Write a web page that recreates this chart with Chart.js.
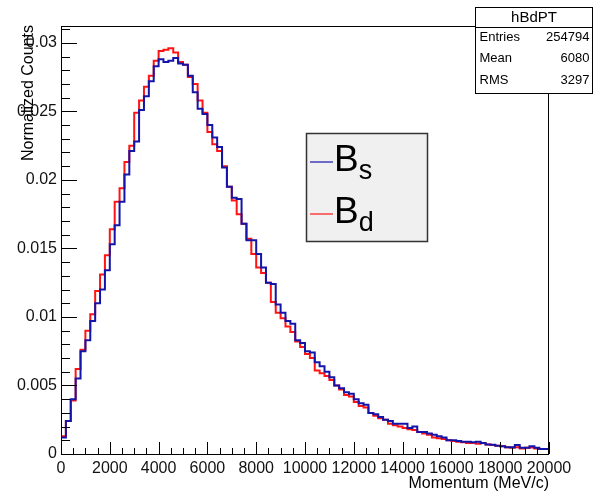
<!DOCTYPE html>
<html>
<head>
<meta charset="utf-8">
<title>hBdPT</title>
<script src="https://cdn.jsdelivr.net/npm/chart.js@4.4.1/dist/chart.umd.min.js"></script>
<style>
  html, body { margin: 0; padding: 0; background: #fff; }
  #wrap { width: 593px; height: 491px; }
</style>
</head>
<body>
<div id="wrap"><canvas id="c" width="593" height="491"></canvas></div>
<script>
// momentum histogram, 100 bins of 200 MeV/c from 0 to 20000
const xMin = 0;
const xMax = 20000;
const nBins = 100;

const yTickValues = [0, 0.005, 0.01, 0.015, 0.02, 0.025, 0.03];
const xTickValues = [0, 2000, 4000, 6000, 8000, 10000, 12000, 14000, 16000, 18000, 20000];

const seriesNames = ['B', 'B'];
const seriesSubs = ['s', 'd'];
const seriesColors = ['#1414a8', '#ff1414'];

// normalized counts per bin
const bsCounts = [
  0.0003, 0.0012, 0.0024, 0.0040, 0.0055, 0.0075, 0.0083, 0.0097, 0.0110, 0.0120,
  0.0134, 0.0153, 0.0167, 0.0184, 0.0204, 0.0221, 0.0228, 0.0251, 0.0261, 0.0272,
  0.0283, 0.0288, 0.0286, 0.0287, 0.0289, 0.0285, 0.0284, 0.0276, 0.0264, 0.0252,
  0.0248, 0.0240, 0.0231, 0.0224, 0.0209, 0.0195, 0.0187, 0.0186, 0.0168, 0.0156,
  0.0156, 0.0146, 0.0136, 0.0125, 0.0124, 0.0109, 0.0103, 0.0097, 0.0095, 0.0083,
  0.0081, 0.0075, 0.0074, 0.0067, 0.0064, 0.0060, 0.0056, 0.0050, 0.0048, 0.0045,
  0.0044, 0.0040, 0.0037, 0.0036, 0.0030, 0.0029, 0.0027, 0.0025, 0.0024, 0.0022,
  0.0022, 0.0022, 0.0019, 0.0020, 0.0016, 0.0016, 0.0015, 0.0014, 0.0013, 0.0012,
  0.0010, 0.0010, 0.00095, 0.0009, 0.0009, 0.00085, 0.0009, 0.0008, 0.0007, 0.00067,
  0.0006, 0.00057, 0.0005, 0.0005, 0.00065, 0.00045, 0.00045, 0.00057, 0.00045, 0.00037
];

const bdCounts = [
  0.0003, 0.0013, 0.0024, 0.0039, 0.0062, 0.0076, 0.0090, 0.0102, 0.0119, 0.0131,
  0.0145, 0.0164, 0.0184, 0.0194, 0.0213, 0.0225, 0.0249, 0.0258, 0.0268, 0.0276,
  0.0287, 0.0294, 0.0295, 0.0296, 0.0293, 0.0286, 0.0284, 0.0275, 0.0270, 0.0258,
  0.0249, 0.0235, 0.0226, 0.0221, 0.0210, 0.0195, 0.0185, 0.0175, 0.0168, 0.0157,
  0.0146, 0.0136, 0.0132, 0.0125, 0.0111, 0.0103, 0.0099, 0.0093, 0.0089, 0.0082,
  0.0078, 0.0073, 0.0070, 0.0061, 0.0059, 0.0057, 0.0054, 0.0050, 0.0047, 0.0043,
  0.0042, 0.0038, 0.0035, 0.0034, 0.0030, 0.0028, 0.0026, 0.0025, 0.0022, 0.0021,
  0.0020, 0.0019, 0.0018, 0.00176, 0.0016, 0.0015, 0.0014, 0.0012, 0.00115, 0.0011,
  0.0010, 0.00095, 0.0009, 0.00085, 0.0008, 0.0008, 0.00075, 0.0008, 0.0007, 0.00065,
  0.0006, 0.00057, 0.0005, 0.00045, 0.0005, 0.0004, 0.00045, 0.00048, 0.0004, 0.00037
];

const statsTitle = 'hBdPT';
const statsLabels = ['Entries', 'Mean', 'RMS'];
const statsValues = ['254794', '6080', '3297'];

const FONT = '"Liberation Sans", Arial, Helvetica, sans-serif';

// histogram outline: one point per lower bin edge plus the upper edge of the last bin
function toSteps(counts) {
  const w = (xMax - xMin) / nBins;
  const pts = counts.map((v, i) => ({ x: xMin + i * w, y: v }));
  pts.push({ x: xMax, y: counts[counts.length - 1] });
  return pts;
}

const rootFrame = {
  id: 'rootFrame',
  afterDatasetsDraw(chart) {
    const ctx = chart.ctx;
    const a = chart.chartArea;
    const xs = chart.scales.x;
    const ys = chart.scales.y;
    ctx.save();

    // frame
    ctx.strokeStyle = '#000';
    ctx.lineWidth = 1;
    ctx.strokeRect(a.left + 0.5, a.top + 0.5, a.right - a.left - 1, a.bottom - a.top);

    // tick marks inside the frame
    ctx.beginPath();
    for (let v = 0; v <= 0.0312; v += 0.001) {
      const py = Math.round(ys.getPixelForValue(v)) + 0.5;
      const major = Math.abs(v / 0.005 - Math.round(v / 0.005)) < 1e-6;
      ctx.moveTo(a.left, py);
      ctx.lineTo(a.left + (major ? 16 : 9), py);
    }
    for (let v = xMin; v <= xMax; v += 500) {
      const px = Math.round(xs.getPixelForValue(v)) + 0.5;
      const major = v % 2000 === 0;
      ctx.moveTo(px, a.bottom);
      ctx.lineTo(px, a.bottom - (major ? 12 : 6));
    }
    ctx.stroke();

    // axis titles
    ctx.fillStyle = '#000';
    ctx.font = '16px ' + FONT;
    ctx.textAlign = 'right';
    ctx.textBaseline = 'alphabetic';
    ctx.fillText('Momentum (MeV/c)', a.right, 488);
    ctx.save();
    ctx.translate(33, a.top - 1);
    ctx.rotate(-Math.PI / 2);
    ctx.fillText('Normalized Counts', 0, 0);
    ctx.restore();

    // legend
    const lx = 306, ly = 133, lw = 121, lh = 108;
    ctx.fillStyle = '#f0f0f0';
    ctx.fillRect(lx, ly, lw, lh);
    ctx.strokeStyle = '#333';
    ctx.lineWidth = 1.5;
    ctx.strokeRect(lx + 0.5, ly + 0.5, lw, lh);
    const rowY = [162, 214];
    chart.data.datasets.forEach((ds, i) => {
      ctx.strokeStyle = ds.borderColor;
      ctx.lineWidth = 1.2;
      ctx.beginPath();
      ctx.moveTo(lx + 4, rowY[i]);
      ctx.lineTo(lx + 27, rowY[i]);
      ctx.stroke();
      ctx.fillStyle = '#000';
      ctx.textAlign = 'left';
      ctx.textBaseline = 'alphabetic';
      ctx.font = '37px ' + FONT;
      ctx.fillText(seriesNames[i], lx + 28, rowY[i] + 9);
      const bw = ctx.measureText(seriesNames[i]).width;
      ctx.font = '27px ' + FONT;
      ctx.fillText(seriesSubs[i], lx + 28 + bw, rowY[i] + 17);
    });

    // stats box
    const sx = 475.5, sy = 7.5, sw = 117, sh = 86;
    ctx.fillStyle = '#fff';
    ctx.fillRect(sx, sy, sw, sh);
    ctx.strokeStyle = '#000';
    ctx.lineWidth = 1;
    ctx.strokeRect(sx, sy, sw, sh);
    ctx.beginPath();
    ctx.moveTo(sx, 27.5);
    ctx.lineTo(sx + sw, 27.5);
    ctx.stroke();
    ctx.fillStyle = '#000';
    ctx.textBaseline = 'middle';
    ctx.textAlign = 'center';
    ctx.font = '15px ' + FONT;
    ctx.fillText(statsTitle, sx + sw / 2, 17.5);
    ctx.font = '13px ' + FONT;
    const statsY = [37, 58, 80];
    statsLabels.forEach((lab, i) => {
      ctx.textAlign = 'left';
      ctx.fillText(lab, sx + 4, statsY[i]);
      ctx.textAlign = 'right';
      ctx.fillText(statsValues[i], sx + sw - 3, statsY[i]);
    });

    ctx.restore();
  }
};

new Chart(document.getElementById('c'), {
  type: 'line',
  data: {
    datasets: [
      {
        label: seriesNames[0] + seriesSubs[0],
        data: toSteps(bsCounts),
        borderColor: seriesColors[0],
        borderWidth: 2,
        stepped: 'after',
        pointRadius: 0,
        fill: false
      },
      {
        label: seriesNames[1] + seriesSubs[1],
        data: toSteps(bdCounts),
        borderColor: seriesColors[1],
        borderWidth: 2,
        stepped: 'after',
        pointRadius: 0,
        fill: false
      }
    ]
  },
  options: {
    responsive: false,
    animation: false,
    devicePixelRatio: 1,
    layout: { padding: { left: 0, right: 44, top: 26, bottom: 0 } },
    plugins: {
      legend: { display: false },
      tooltip: { enabled: false }
    },
    scales: {
      x: {
        type: 'linear',
        min: xMin,
        max: xMax,
        afterFit: (s) => { s.height = 37; },
        afterBuildTicks: (s) => { s.ticks = xTickValues.map(v => ({ value: v })); },
        grid: { display: false, drawTicks: false },
        border: { display: false },
        ticks: {
          autoSkip: false,
          maxRotation: 0,
          padding: 5,
          color: '#111',
          font: { family: FONT, size: 16 },
          callback: (v) => String(v)
        }
      },
      y: {
        type: 'linear',
        min: 0,
        max: 0.03123,
        afterFit: (s) => { s.width = 61; },
        afterBuildTicks: (s) => { s.ticks = yTickValues.map(v => ({ value: v })); },
        grid: { display: false, drawTicks: false },
        border: { display: false },
        ticks: {
          padding: 4,
          color: '#111',
          font: { family: FONT, size: 16 },
          callback: (v) => String(v)
        }
      }
    }
  },
  plugins: [rootFrame]
});
</script>
</body>
</html>
